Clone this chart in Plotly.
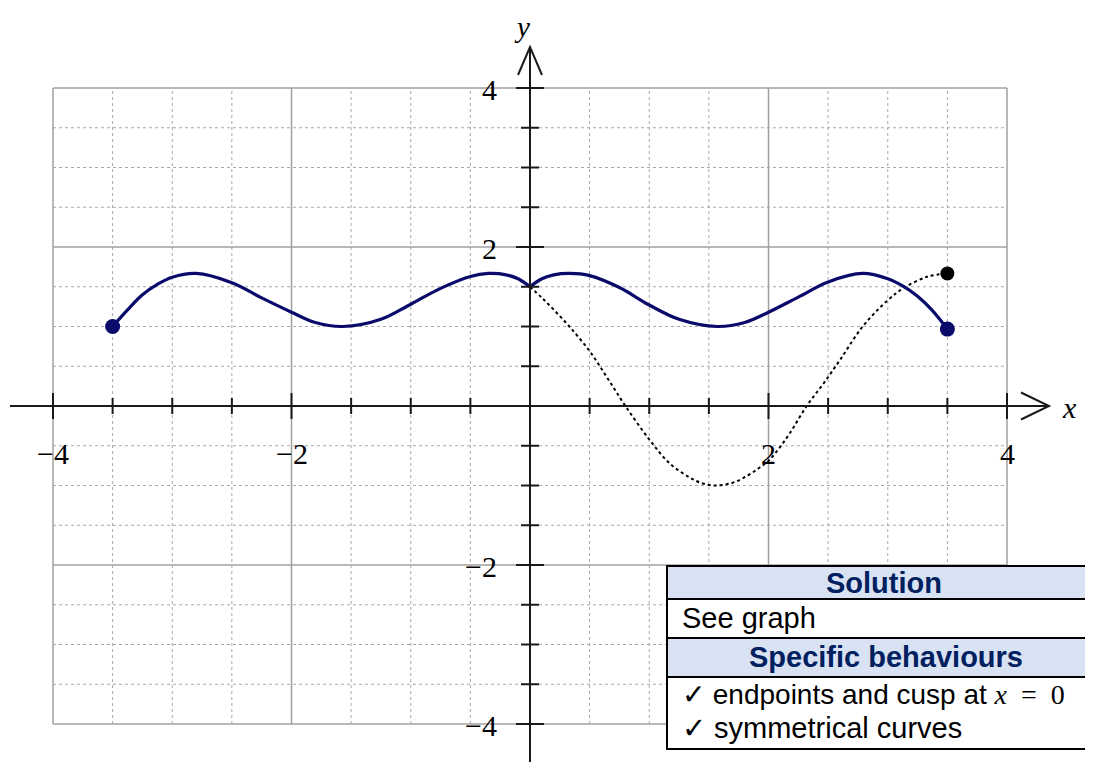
import plotly.graph_objects as go
import numpy as np

# solid curve, split at the cusp x = 0
solid_left_x = [-3.5, -3.375, -3.25, -3.125, -3.0, -2.8, -2.5, -2.25, -2.0, -1.8,
                -1.57, -1.25, -1.0, -0.75, -0.5, -0.35, -0.2, -0.1, 0.0]
solid_left_y = [1.0, 1.21, 1.4, 1.53, 1.62, 1.667, 1.55, 1.36, 1.18, 1.05,
                1.0, 1.09, 1.28, 1.48, 1.63, 1.667, 1.65, 1.6, 1.5]
solid_right_x = [0.0, 0.1, 0.2, 0.33, 0.5, 0.75, 1.0, 1.25, 1.57, 1.8,
                 2.0, 2.25, 2.5, 2.79, 3.0, 3.125, 3.25, 3.375, 3.5]
solid_right_y = [1.5, 1.6, 1.65, 1.667, 1.64, 1.49, 1.27, 1.09, 1.0, 1.05,
                 1.18, 1.37, 1.56, 1.667, 1.6, 1.51, 1.38, 1.2, 0.967]

# dotted curve
dotted_x = [0.0, 0.1, 0.2, 0.33, 0.5, 0.65, 0.8, 1.0, 1.17, 1.34, 1.45, 1.56,
            1.7, 1.82, 1.92, 2.0, 2.09, 2.18, 2.32, 2.46, 2.6, 2.79, 3.0, 3.13, 3.33, 3.5]
dotted_y = [1.5, 1.36, 1.21, 1.0, 0.69, 0.35, 0.0, -0.42, -0.72, -0.9, -0.975, -1.0,
            -0.965, -0.88, -0.78, -0.69, -0.53, -0.34, 0.0, 0.28, 0.58, 1.0, 1.33, 1.48, 1.625, 1.667]

# endpoints
solid_end_x = [-3.5, 3.5]
solid_end_y = [1.0, 0.967]
dotted_end_x = [3.5]
dotted_end_y = [1.667]

x_tick_vals = [-4, -2, 2, 4]
x_tick_text = ["\u22124", "\u22122", "2", "4"]
y_tick_vals = [4, 2, -2, -4]
y_tick_text = ["4", "2", "\u22122", "\u22124"]

table_rows = ["Solution", "See graph", "Specific behaviours"]
table_marks = ["\u2713 endpoints and cusp at <span style='font-family:Liberation Serif'>"
               "<i>x</i>\u2002=\u20020</span>",
               "\u2713 symmetrical curves"]

W, H = 1093, 762
OFF = 8                # page body margin
X0, Y0 = 530, 406      # screen pixel of the origin
UX, UY = 119.25, 79.5  # pixels per unit

NAVY = "#0a0a6b"
SERIF = "Liberation Serif"


def dx(sx):
    return (sx - X0) / UX


def dy(sy):
    return (Y0 - sy) / UY


def px_(sx):
    return (sx - OFF) / W


def py_(sy):
    return 1 - (sy - OFF) / H


shapes = []

# grid
for v in np.arange(-4, 4.01, 0.5):
    major = abs(v) % 2 == 0
    line = dict(color="#a0a0a0", width=1.5) if major else dict(color="#a8a8a8", width=1, dash="dot")
    shapes.append(dict(type="line", x0=v, x1=v, y0=-4, y1=4, xref="x", yref="y", line=line, layer="below"))
    shapes.append(dict(type="line", x0=-4, x1=4, y0=v, y1=v, xref="x", yref="y", line=line, layer="below"))

# axes with open arrow heads
ax_line = dict(color="#1a1a1a", width=2)
shapes.append(dict(type="line", x0=dx(10), x1=dx(1049), y0=0, y1=0, line=ax_line))
shapes.append(dict(type="path", line=ax_line,
                   path=f"M {dx(1021)},{dy(392.5)} L {dx(1049)},0 L {dx(1021)},{dy(419.5)}"))
shapes.append(dict(type="line", x0=0, x1=0, y0=dy(775), y1=dy(47), line=ax_line))
shapes.append(dict(type="path", line=ax_line,
                   path=f"M {dx(518)},{dy(75)} L 0,{dy(47)} L {dx(542)},{dy(75)}"))

# tick marks
for v in np.arange(-4, 4.01, 0.5):
    if v == 0:
        continue
    h = 13 if abs(v) % 2 == 0 else 8
    shapes.append(dict(type="line", xref="x", yref="y", x0=v, x1=v, ysizemode="pixel", yanchor=0,
                       y0=-h, y1=h, line=ax_line))
    shapes.append(dict(type="line", xref="x", yref="y", y0=v, y1=v, xsizemode="pixel", xanchor=0,
                       x0=-h - 1, x1=h + 1, line=ax_line))

# table
border = dict(color="black", width=2)
rows = [(566, 599, "#d9e2f3"), (599, 638, "white"), (638, 677, "#d9e2f3"), (677, 749, "white")]
for top, bot, fill in rows:
    shapes.append(dict(type="rect", xref="paper", yref="paper", x0=px_(667), x1=px_(1105),
                       y0=py_(bot), y1=py_(top), fillcolor=fill, line=border, layer="above"))

fig = go.Figure()

fig.add_trace(go.Scatter(x=dotted_x, y=dotted_y, mode="lines", line_shape="spline",
                         line=dict(color="black", width=2, dash="dot")))
fig.add_trace(go.Scatter(x=solid_left_x, y=solid_left_y, mode="lines", line_shape="spline",
                         line=dict(color=NAVY, width=3.2)))
fig.add_trace(go.Scatter(x=solid_right_x, y=solid_right_y, mode="lines", line_shape="spline",
                         line=dict(color=NAVY, width=3.2)))
fig.add_trace(go.Scatter(x=solid_end_x, y=solid_end_y, mode="markers",
                         marker=dict(color=NAVY, size=15)))
fig.add_trace(go.Scatter(x=dotted_end_x, y=dotted_end_y, mode="markers",
                         marker=dict(color="black", size=14)))

ann = []
tick_font = dict(family=SERIF, size=30, color="black")
for v, t in zip(x_tick_vals, x_tick_text):
    ann.append(dict(x=v, y=0, text=t, showarrow=False, xanchor="center", yanchor="middle",
                    yshift=-47, font=tick_font))
for v, t in zip(y_tick_vals, y_tick_text):
    ann.append(dict(x=0, y=v, text=t, showarrow=False, xanchor="right", yanchor="middle",
                    xshift=-31, yshift=-1, font=tick_font))
ann.append(dict(x=dx(522), y=dy(27), text="<i>y</i>", showarrow=False,
                font=dict(family=SERIF, size=29, color="black")))
ann.append(dict(x=dx(1069), y=dy(407), text="<i>x</i>", showarrow=False, font=tick_font))

head_font = dict(family="Liberation Sans", size=29, color="#002060")
body_font = dict(family="Liberation Sans", size=29, color="black")
ann.append(dict(xref="paper", yref="paper", x=px_(884), y=py_(583), text=f"<b>{table_rows[0]}</b>",
                showarrow=False, xanchor="center", yanchor="middle", font=head_font))
ann.append(dict(xref="paper", yref="paper", x=px_(680), y=py_(618), text=table_rows[1],
                showarrow=False, xanchor="left", yanchor="middle", font=body_font))
ann.append(dict(xref="paper", yref="paper", x=px_(886), y=py_(657), text=f"<b>{table_rows[2]}</b>",
                showarrow=False, xanchor="center", yanchor="middle", font=head_font))
ann.append(dict(xref="paper", yref="paper", x=px_(680), y=py_(694), text=table_marks[0],
                showarrow=False, xanchor="left", yanchor="middle",
                font=dict(family="Liberation Sans", size=28, color="black")))
ann.append(dict(xref="paper", yref="paper", x=px_(680), y=py_(728), text=table_marks[1],
                showarrow=False, xanchor="left", yanchor="middle", font=body_font))

fig.update_layout(
    width=W, height=H,
    margin=dict(l=0, r=0, t=0, b=0),
    paper_bgcolor="white", plot_bgcolor="white",
    showlegend=False,
    xaxis=dict(visible=False, range=[dx(OFF), dx(OFF + W)], fixedrange=True),
    yaxis=dict(visible=False, range=[dy(OFF + H), dy(OFF)], fixedrange=True),
    shapes=shapes,
    annotations=ann,
)

fig.write_html("out.html")
